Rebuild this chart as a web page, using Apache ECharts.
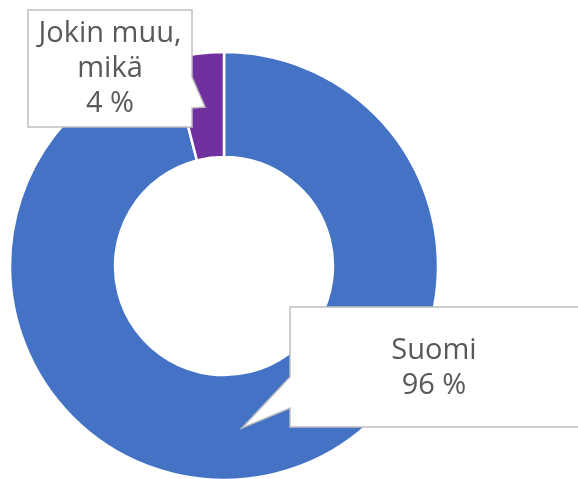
<!DOCTYPE html>
<html>
<head>
<meta charset="utf-8">
<script src="https://cdn.jsdelivr.net/npm/echarts@6/dist/echarts.min.js"></script>
<style>
  html, body { margin: 0; padding: 0; background: #fff; }
  #chart { width: 578px; height: 479px; }
</style>
</head>
<body>
<div id="chart"></div>
<script>
// data
var categories = ['Suomi', 'Jokin muu, mikä'];
var values = [96, 4];
var colors = ['#4472C4', '#7030A0'];

var textColor = '#595959';
var calloutBorder = '#BFBFBF';
var font = '29px "Open Sans", sans-serif';

function labelText(i) {
  return categories[i].replace(', ', ',\n') + '\n' + values[i] + ' %';
}

var chart = echarts.init(document.getElementById('chart'));

var option = {
  animation: false,
  series: [{
    type: 'pie',
    center: [224, 266],
    radius: [109, 214],
    startAngle: 90,
    clockwise: true,
    silent: true,
    label: { show: false },
    labelLine: { show: false },
    itemStyle: { borderColor: '#ffffff', borderWidth: 2.5 },
    data: categories.map(function (c, i) {
      return { name: c, value: values[i], itemStyle: { color: colors[i] } };
    })
  }],
  graphic: [
    // callout for "Jokin muu, mikä"
    {
      type: 'polygon', z: 10,
      shape: { points: [[28, 10], [192, 10], [192, 77], [205, 107], [192, 108], [192, 127], [28, 127]] },
      style: { fill: '#ffffff', stroke: calloutBorder, lineWidth: 1.5 }
    },
    {
      type: 'text', z: 11, x: 110, y: 69,
      style: { text: labelText(1), fill: textColor, font: font, lineHeight: 35, align: 'center', verticalAlign: 'middle' }
    },
    // callout for "Suomi"
    {
      type: 'polygon', z: 10,
      shape: { points: [[290, 307], [582, 307], [582, 427], [290, 427], [290, 408], [242, 428], [290, 377]] },
      style: { fill: '#ffffff', stroke: calloutBorder, lineWidth: 1.5 }
    },
    {
      type: 'text', z: 11, x: 434, y: 368,
      style: { text: labelText(0), fill: textColor, font: font, lineHeight: 35, align: 'center', verticalAlign: 'middle' }
    }
  ]
};

chart.setOption(option);
</script>
</body>
</html>
